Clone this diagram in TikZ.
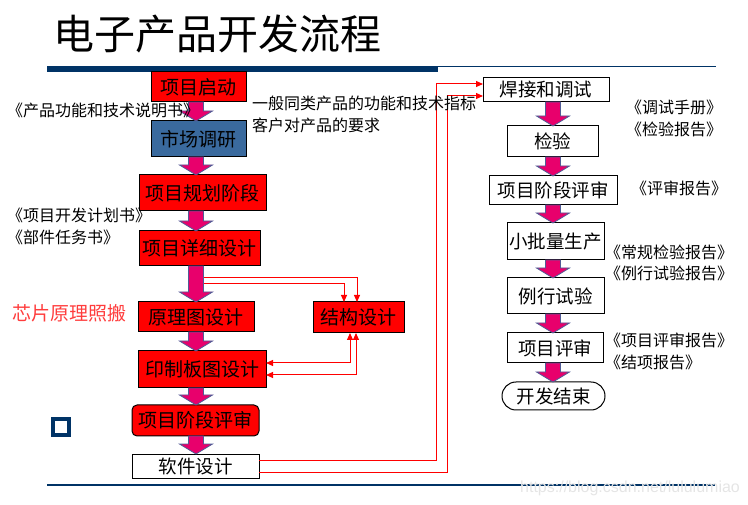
\documentclass[tikz,border=0pt]{standalone}
\usepackage{fontspec}
\setmainfont{Noto Sans CJK SC}
\newfontfamily\wmfont{Liberation Sans}
\usetikzlibrary{calc,arrows.meta}
\definecolor{boxred}{RGB}{255,0,0}
\definecolor{boxblue}{RGB}{58,106,158}
\definecolor{barblue}{RGB}{0,51,102}
\definecolor{fatfill}{RGB}{232,0,108}
\definecolor{fatedge}{RGB}{80,92,150}
\definecolor{chipred}{RGB}{255,60,60}
\tikzset{
  redbox/.style={draw=black,line width=1pt,fill=boxred,inner sep=0pt,outer sep=0pt,font=\fontsize{19}{19}\selectfont},
  whitebox/.style={draw=black,line width=1pt,fill=white,inner sep=0pt,outer sep=0pt,font=\fontsize{18.5}{18.5}\selectfont},
  note/.style={inner sep=0pt,anchor=west,font=\fontsize{16}{16}\selectfont},
  fatarrow/.style={fill=fatfill,draw=fatedge,line width=0.8pt,line join=miter},
  redline/.style={draw=red,line width=1pt,-{Triangle[length=7pt,width=6pt]}},
  redline2/.style={draw=red,line width=1pt,{Triangle[length=7pt,width=6pt]}-{Triangle[length=7pt,width=6pt]}},
}
\newcommand\fatarr[3]{%
  \path[fatarrow] ($(#1 |- #2.south)+(-7.5,0)$) -- ($(#1 |- #3.north)+(-7.5,-10)$) -- ($(#1 |- #3.north)+(-16.5,-10)$) -- (#1 |- #3.north) -- ($(#1 |- #3.north)+(16.5,-10)$) -- ($(#1 |- #3.north)+(7.5,-10)$) -- ($(#1 |- #2.south)+(7.5,0)$) -- cycle;}
\begin{document}
\begin{tikzpicture}[x=1pt,y=-1pt]
\useasboundingbox (0,0) rectangle (748,505);
% title and rules
\node[inner sep=0pt,anchor=west,font=\fontsize{41}{41}\selectfont] (title) at (53,34) {电子产品开发流程};
\fill[barblue] (47,66) rectangle (438,72);
\draw[barblue,line width=1pt] (438,66.5) -- (716,66.5);
\draw[barblue,line width=1.3pt] (47,485) -- (715,485);
\draw[barblue,line width=3.5pt] (53,419) rectangle (69,435);
\node[inner sep=0pt,anchor=west,font=\wmfont\fontsize{16}{16}\selectfont,text=black!10] (wm) at (520,488) {https://blog.csdn.net/lululumiao};
% axes
\coordinate (axL) at (196,0);
\coordinate (axR) at (553,0);
% left column
\node[redbox,minimum width=95pt,minimum height=30pt] (qd) at (198.5,87) {项目启动};
\node[redbox,fill=boxblue,minimum width=95pt,minimum height=36pt] (sc) at (198.5,139) {市场调研};
\node[redbox,minimum width=127pt,minimum height=36pt] (gh) at (202.5,193) {项目规划阶段};
\node[redbox,minimum width=121pt,minimum height=35pt] (xx) at (199.5,248.5) {项目详细设计};
\node[redbox,minimum width=116pt,minimum height=30pt] (yl) at (196,317) {原理图设计};
\node[redbox,minimum width=128pt,minimum height=37pt] (yz) at (202,369.5) {印制板图设计};
\node[redbox,rounded corners=5pt,minimum width=127pt,minimum height=31pt] (jd) at (195.5,420.5) {项目阶段评审};
\node[whitebox,minimum width=127pt,minimum height=24pt] (rj) at (195.5,466) {软件设计};
\node[redbox,minimum width=91pt,minimum height=31pt] (jg) at (358.5,317.5) {结构设计};
% right column
\node[whitebox,minimum width=126pt,minimum height=24pt] (hj) at (546,90) {焊接和调试};
\node[whitebox,minimum width=91pt,minimum height=31pt] (jy) at (552.5,141.5) {检验};
\node[whitebox,minimum width=128pt,minimum height=29pt] (ps) at (553,190.5) {项目阶段评审};
\node[whitebox,minimum width=97pt,minimum height=37pt] (xp) at (555.5,241.5) {小批量生产};
\node[whitebox,minimum width=97pt,minimum height=36pt] (lx) at (555.5,296) {例行试验};
\node[whitebox,minimum width=96pt,minimum height=30pt] (xm) at (555,348) {项目评审};
\node[whitebox,rounded corners=14pt,minimum width=103pt,minimum height=28pt] (kf) at (553.5,396) {开发结束};
% fat arrows left
\fatarr{axL}{qd}{sc}
\fatarr{axL}{sc}{gh}
\fatarr{axL}{gh}{xx}
\fatarr{axL}{xx}{yl}
\fatarr{axL}{yl}{yz}
\fatarr{axL}{yz}{jd}
\fatarr{axL}{jd}{rj}
% fat arrows right
\fatarr{axR}{hj}{jy}
\fatarr{axR}{jy}{ps}
\fatarr{axR}{ps}{xp}
\fatarr{axR}{xp}{lx}
\fatarr{axR}{lx}{xm}
\fatarr{axR}{xm}{kf}
% red connectors
\coordinate (s1) at (204,278);
\coordinate (s2) at (204,284);
\draw[redline] (s1) -| ($(jg.north)+(-1.5,0)$);
\draw[redline] (s2) -| ($(jg.north)+(-14.5,0)$);
\draw[redline2] ($(yz.east)+(0,-6.5)$) -| ($(jg.south)+(-8.5,0)$);
\draw[redline2] ($(yz.east)+(0,5.5)$) -| ($(jg.south)+(-2.5,0)$);
\draw[redline] ($(rj.east)+(0,-6)$) -| ($(hj.west)+(-47,-6)$) -- ($(hj.west)+(0,-6)$);
\draw[redline] ($(rj.east)+(0,6)$) -| ($(hj.west)+(-36,6)$) -- ($(hj.west)+(0,6)$);
% notes
\node[note] (n1) at (7,110) {《产品功能和技术说明书》};
\node[note] (n2) at (7,215) {《项目开发计划书》};
\node[note] (n3) at (7,237) {《部件任务书》};
\node[note,font=\fontsize{19}{19}\selectfont,text=chipred] (n4) at (12,313) {芯片原理照搬};
\node[note] (n5) at (252,103) {一般同类产品的功能和技术指标};
\node[note] (n6) at (252,125) {客户对产品的要求};
\node[note] (n7) at (626,107) {《调试手册》};
\node[note] (n8) at (626,129) {《检验报告》};
\node[note] (n9) at (631,188) {《评审报告》};
\node[note] (n10) at (605,252) {《常规检验报告》};
\node[note] (n11) at (605,273) {《例行试验报告》};
\node[note] (n12) at (605,340) {《项目评审报告》};
\node[note] (n13) at (605,362) {《结项报告》};
\end{tikzpicture}
\end{document}
